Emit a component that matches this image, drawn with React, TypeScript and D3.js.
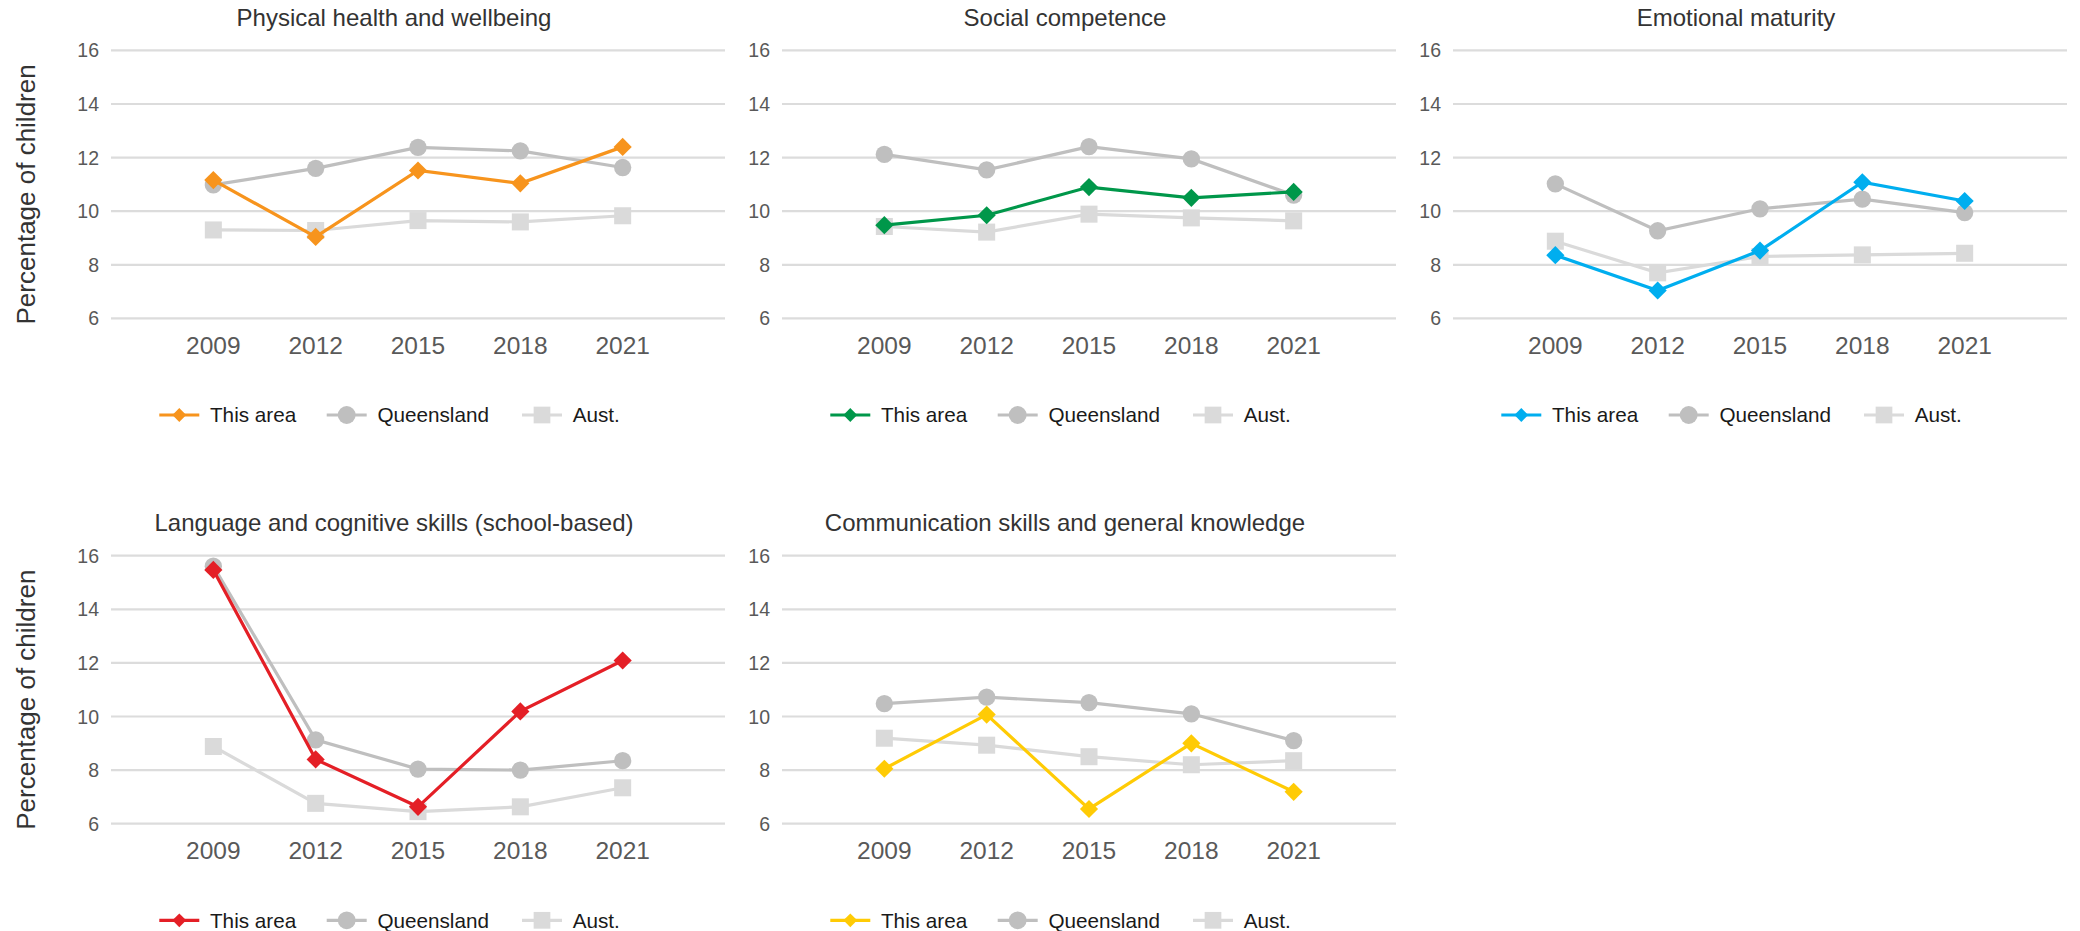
import React from 'react';
import * as d3 from 'd3';

const years = ['2009', '2012', '2015', '2018', '2021'];
const yTicks = [6, 8, 10, 12, 14, 16];
const seriesNames = ['This area', 'Queensland', 'Aust.'];

const panelTitles = [
  'Physical health and wellbeing',
  'Social competence',
  'Emotional maturity',
  'Language and cognitive skills (school-based)',
  'Communication skills and general knowledge',
];
const areaColors = ['#f7941d', '#00974a', '#00aeef', '#e41f26', '#ffcb05'];

const physicalArea = [11.16, 9.04, 11.52, 11.04, 12.4];
const physicalQld = [10.98, 11.6, 12.38, 12.25, 11.63];
const physicalAus = [9.3, 9.28, 9.65, 9.6, 9.83];

const socialArea = [9.48, 9.85, 10.9, 10.5, 10.72];
const socialQld = [12.12, 11.54, 12.41, 11.95, 10.6];
const socialAus = [9.43, 9.22, 9.89, 9.75, 9.64];

const emotionalArea = [8.36, 7.04, 8.53, 11.08, 10.38];
const emotionalQld = [11.02, 9.27, 10.09, 10.45, 9.95];
const emotionalAus = [8.88, 7.7, 8.31, 8.37, 8.43];

const languageArea = [15.47, 8.4, 6.63, 10.19, 12.09];
const languageQld = [15.61, 9.13, 8.04, 8.0, 8.35];
const languageAus = [8.88, 6.76, 6.45, 6.63, 7.34];

const commArea = [8.05, 10.07, 6.55, 9.0, 7.19];
const commQld = [10.48, 10.72, 10.52, 10.1, 9.1];
const commAus = [9.19, 8.93, 8.5, 8.2, 8.35];

const areaSeries = [physicalArea, socialArea, emotionalArea, languageArea, commArea];
const qldSeries = [physicalQld, socialQld, emotionalQld, languageQld, commQld];
const ausSeries = [physicalAus, socialAus, emotionalAus, languageAus, commAus];

const QLD_COLOR = '#bfbfbf';
const AUS_COLOR = '#dadada';
const GRID_COLOR = '#dcdcdc';
const FONT = '"Liberation Sans", Arial, sans-serif';

const PLOT_W = 614;
const PLOT_H = 268;
const COL_STEP = 671;
const ROW_STEP = 505.3;
const LEFT0 = 111;
const TOP0 = 50.4;

const diamondPath = (size: number) => d3.symbol(d3.symbolSquare, size)() as string;
const circlePath = (size: number) => d3.symbol(d3.symbolCircle, size)() as string;
const squarePath = (size: number) => d3.symbol(d3.symbolSquare, size)() as string;

function Panel({ idx }: { idx: number }) {
  const col = idx % 3;
  const row = Math.floor(idx / 3);
  const left = LEFT0 + col * COL_STEP;
  const top = TOP0 + row * ROW_STEP;

  const x = d3.scalePoint<string>().domain(years).range([0, PLOT_W]).padding(1);
  const y = d3.scaleLinear().domain([6, 16]).range([PLOT_H, 0]);
  const line = d3
    .line<number>()
    .x((_, i) => x(years[i]) as number)
    .y((d) => y(d));

  const color = areaColors[idx];
  const series = [
    { vals: ausSeries[idx], color: AUS_COLOR, shape: 'square' },
    { vals: qldSeries[idx], color: QLD_COLOR, shape: 'circle' },
    { vals: areaSeries[idx], color, shape: 'diamond' },
  ];

  const markerFor = (shape: string, legend = false) => {
    if (shape === 'diamond') return diamondPath(legend ? 95 : 165);
    if (shape === 'circle') return circlePath(legend ? 250 : 235);
    return squarePath(legend ? 280 : 290);
  };
  const rotFor = (shape: string) => (shape === 'diamond' ? ' rotate(45)' : '');

  const legendOffsets = [48.3, 215.7, 411];
  const legendItems = [
    { name: seriesNames[0], color, shape: 'diamond' },
    { name: seriesNames[1], color: QLD_COLOR, shape: 'circle' },
    { name: seriesNames[2], color: AUS_COLOR, shape: 'square' },
  ];

  return (
    <g transform={`translate(${left},${top})`}>
      <text
        x={283}
        y={-24.4}
        textAnchor="middle"
        fontFamily={FONT}
        fontSize={24}
        fill="#333"
      >
        {panelTitles[idx]}
      </text>
      {yTicks.map((t) => (
        <g key={t}>
          <line x1={0} x2={PLOT_W} y1={y(t)} y2={y(t)} stroke={GRID_COLOR} strokeWidth={2.2} />
          <text
            x={-12}
            y={y(t)}
            dy="0.36em"
            textAnchor="end"
            fontFamily={FONT}
            fontSize={19.5}
            fill="#595959"
          >
            {t}
          </text>
        </g>
      ))}
      {years.map((yr) => (
        <text
          key={yr}
          x={x(yr)}
          y={PLOT_H + 35.6}
          textAnchor="middle"
          fontFamily={FONT}
          fontSize={24.5}
          fill="#595959"
        >
          {yr}
        </text>
      ))}
      {col === 0 && (
        <text
          transform={`translate(${35 - left},${PLOT_H / 2 + 10}) rotate(-90)`}
          textAnchor="middle"
          fontFamily={FONT}
          fontSize={26}
          fill="#333"
        >
          Percentage of children
        </text>
      )}
      {series.map((s, si) => (
        <g key={si}>
          <path d={line(s.vals) as string} fill="none" stroke={s.color} strokeWidth={3.2} />
          {s.vals.map((v, i) => (
            <path
              key={i}
              d={markerFor(s.shape)}
              transform={`translate(${x(years[i])},${y(v)})${rotFor(s.shape)}`}
              fill={s.color}
            />
          ))}
        </g>
      ))}
      <g transform={`translate(0,${415 - TOP0})`}>
        {legendItems.map((it, i) => (
          <g key={it.name} transform={`translate(${legendOffsets[i]},0)`}>
            <line x1={0} x2={40} y1={0} y2={0} stroke={it.color} strokeWidth={3.2} />
            <path
              d={markerFor(it.shape, true)}
              transform={`translate(20,0)${rotFor(it.shape)}`}
              fill={it.color}
            />
            <text
              x={50.7}
              y={0}
              dy="0.36em"
              fontFamily={FONT}
              fontSize={20.7}
              fill="#1a1a1a"
            >
              {it.name}
            </text>
          </g>
        ))}
      </g>
    </g>
  );
}

export default function App() {
  return (
    <svg
      width={2080}
      height={931}
      style={{ position: 'absolute', left: 0, top: 0, background: '#fff' }}
    >
      <rect width={2080} height={931} fill="#fff" />
      {panelTitles.map((_, i) => (
        <Panel key={i} idx={i} />
      ))}
    </svg>
  );
}
